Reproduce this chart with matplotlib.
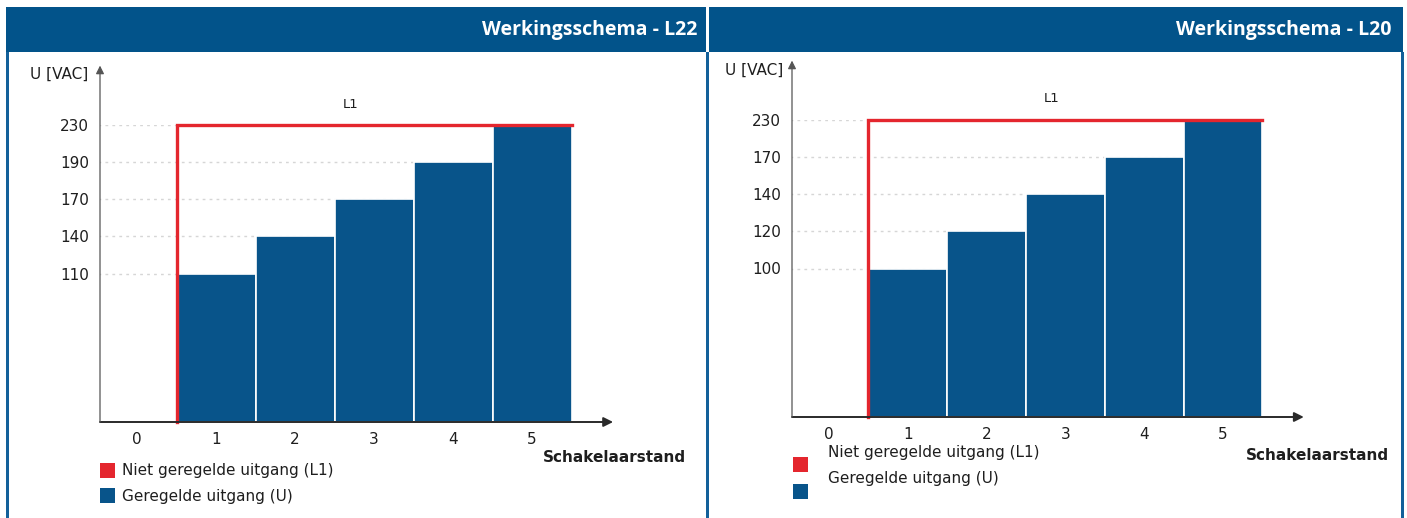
import numpy as np
import matplotlib
matplotlib.use('Agg')
import matplotlib.pyplot as plt
from matplotlib.patches import Rectangle

# --- data ---
positions = [0, 1, 2, 3, 4, 5]

l22_ticks = [110, 140, 170, 190, 230]
l22_u = [0, 110, 140, 170, 190, 230]
l22_l1 = [0, 230, 230, 230, 230, 230]

l20_ticks = [100, 120, 140, 170, 230]
l20_u = [0, 100, 120, 140, 170, 230]
l20_l1 = [0, 230, 230, 230, 230, 230]

titles = ['Werkingsschema - L22', 'Werkingsschema - L20']
legend_labels = ['Niet geregelde uitgang (L1)', 'Geregelde uitgang (U)']

HEADER = '#02538a'
BORDER = '#13609a'
BAR = '#08548a'
RED = '#e4262e'
TXT = '#1e1e1e'
FS = 11

W, H = 1407, 518
fig = plt.figure(figsize=(W / 100, H / 100), dpi=100)

# background layer in pixel coordinates (header bar, panel borders, legends)
bg = fig.add_axes([0, 0, 1, 1])
bg.set_xlim(0, W)
bg.set_ylim(H, 0)
bg.axis('off')
bg.add_patch(Rectangle((6, 7), 700, 45, color=HEADER, lw=0))
bg.add_patch(Rectangle((708.5, 7), 694.5, 45, color=HEADER, lw=0))
for x in [6, 706, 1401]:
    bg.add_patch(Rectangle((x, 52), 2.5, H - 52, color=BORDER, lw=0))

bg.text(697, 30, titles[0], ha='right', va='center', color='white',
        fontsize=14, fontweight='bold', family='Open Sans')
bg.text(1391, 30, titles[1], ha='right', va='center', color='white',
        fontsize=14, fontweight='bold', family='Open Sans')


def make_scale(ticks):
    # schematic axis: the tick levels sit on an even grid above a gap
    kv = [0] + ticks
    kp = [0, 4, 5, 6, 7, 8]
    fwd = lambda v: np.interp(v, kv, kp)
    inv = lambda p: np.interp(p, kp, kv)
    return fwd, inv


def draw_chart(rect, ticks, u, l1, l1_x):
    ax = fig.add_axes(rect)
    ax.set_yscale('function', functions=make_scale(ticks))
    ax.set_xlim(-0.47, 5.5)
    ax.set_ylim(0, 230)
    for s in ax.spines.values():
        s.set_visible(False)

    ax.hlines(ticks, -0.5, 5.5, colors='#d6d6d6', linestyles=(0, (2, 3)),
              lw=1, zorder=0.5)
    ax.bar(positions, u, width=1.0, color=BAR, edgecolor='white', lw=1.2,
           zorder=2)

    on = np.nonzero(l1)[0]
    xs = [on[0] - 0.5, on[0] - 0.5, on[-1] + 0.5]
    ys = [0, l1[on[0]], l1[on[-1]]]
    ax.plot(xs, ys, color=RED, lw=2.4, zorder=3, clip_on=False,
            solid_joinstyle='miter')
    ax.annotate('L1', (l1_x, l1[on[0]]), xytext=(0, 21),
                textcoords='offset pixels', ha='center', va='center',
                fontsize=9.5, color=TXT)

    ax.set_xticks(positions)
    ax.set_yticks(ticks)
    ax.tick_params(length=0, labelsize=FS, labelcolor=TXT)
    ax.tick_params(axis='x', pad=7)
    ax.tick_params(axis='y', pad=8)

    # axis arrows
    ax.annotate('', xy=(1.088, 0), xytext=(0, 0), xycoords='axes fraction',
                arrowprops=dict(arrowstyle='-|>', color='#2a2a2a', lw=1.4,
                                mutation_scale=14, shrinkA=0, shrinkB=0),
                zorder=4)
    ax.annotate('', xy=(0, 1.2), xytext=(0, 0), xycoords='axes fraction',
                arrowprops=dict(arrowstyle='-|>', color='#555555', lw=0.9,
                                mutation_scale=12, shrinkA=0, shrinkB=0),
                zorder=4)
    return ax


draw_chart([100 / W, 96 / H, 471.6 / W, 297 / H], l22_ticks, l22_u, l22_l1, 2.7)
draw_chart([792 / W, 101 / H, 470.4 / W, 297 / H], l20_ticks, l20_u, l20_l1, 2.82)

# axis titles
bg.text(88, 74, 'U [VAC]', ha='right', va='center', fontsize=FS, color=TXT)
bg.text(783, 70, 'U [VAC]', ha='right', va='center', fontsize=FS, color=TXT)
bg.text(686, 458, 'Schakelaarstand', ha='right', va='center', fontsize=FS,
        fontweight='bold', color=TXT)
bg.text(1389, 456, 'Schakelaarstand', ha='right', va='center', fontsize=FS,
        fontweight='bold', color=TXT)

# legends
for (sx, sy, tx, ty) in [(100, [463, 488], 122, [471, 496]),
                         (793, [457, 484], 828, [452, 479])]:
    for c, y, t, lab in zip([RED, BAR], sy, ty, legend_labels):
        bg.add_patch(Rectangle((sx, y), 15, 15, color=c, lw=0))
        bg.text(tx, t, lab, ha='left', va='center', fontsize=FS, color=TXT)

fig.savefig('out.png', dpi=100)
